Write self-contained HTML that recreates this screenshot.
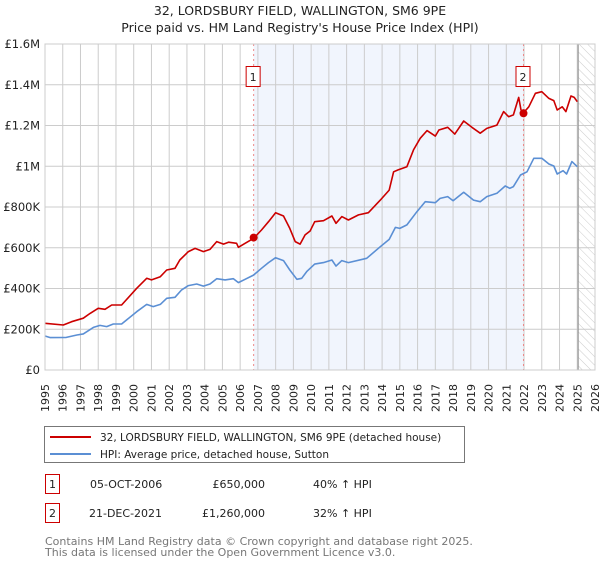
<!DOCTYPE html>
<html><head><meta charset="utf-8"><style>
body{margin:0;background:#fff;width:600px;height:560px;overflow:hidden;font-family:"DejaVu Sans","Liberation Sans",sans-serif;}
svg text{font-family:"DejaVu Sans","Liberation Sans",sans-serif;}
</style></head><body>
<svg id="chart" width="600" height="560" xmlns="http://www.w3.org/2000/svg">
<defs><pattern id="hatch" width="6" height="6" patternUnits="userSpaceOnUse" patternTransform="rotate(-45)"><line x1="0" y1="0" x2="0" y2="6" stroke="#ccc" stroke-width="1"/></pattern></defs>
<text x="300" y="15" text-anchor="middle" font-size="12.5" fill="#222">32, LORDSBURY FIELD, WALLINGTON, SM6 9PE</text>
<text x="300" y="32" text-anchor="middle" font-size="12.5" fill="#222">Price paid vs. HM Land Registry's House Price Index (HPI)</text>
<g id="plot"></g>
<g>
<rect x="44.5" y="426.5" width="420" height="36" fill="#fff" stroke="#777"/>
<line x1="50" y1="437" x2="91" y2="437" stroke="#cc0000" stroke-width="2"/>
<text x="100" y="441" font-size="10.5" fill="#222">32, LORDSBURY FIELD, WALLINGTON, SM6 9PE (detached house)</text>
<line x1="50" y1="454" x2="91" y2="454" stroke="#5b8fd4" stroke-width="2"/>
<text x="100" y="458" font-size="10.5" fill="#222">HPI: Average price, detached house, Sutton</text>
</g>
<g>
<rect x="45.5" y="474.5" width="14" height="19" fill="#fff" stroke="#cc0000"/>
<text x="52.5" y="488" text-anchor="middle" font-size="11" fill="#222">1</text>
<text x="90" y="488" font-size="11" fill="#222">05-OCT-2006</text>
<text x="265" y="488" text-anchor="end" font-size="11" fill="#222">£650,000</text>
<text x="313" y="488" font-size="11" fill="#222">40% ↑ HPI</text>
</g>
<g>
<rect x="45.5" y="503.5" width="14" height="19" fill="#fff" stroke="#cc0000"/>
<text x="52.5" y="517" text-anchor="middle" font-size="11" fill="#222">2</text>
<text x="89" y="517" font-size="11" fill="#222">21-DEC-2021</text>
<text x="265" y="517" text-anchor="end" font-size="11" fill="#222">£1,260,000</text>
<text x="313" y="517" font-size="11" fill="#222">32% ↑ HPI</text>
</g>
<text x="45" y="545" font-size="11" fill="#777">Contains HM Land Registry data © Crown copyright and database right 2025.</text>
<text x="45" y="556" font-size="11" fill="#777">This data is licensed under the Open Government Licence v3.0.</text>
</svg>
<script>
const redYears=[1995.0,1996.03,1996.5,1997.16,1997.54,1998.0,1998.38,1998.76,1999.32,2000.17,2000.73,2001.0,2001.5,2001.86,2002.33,2002.6,2003.08,2003.46,2003.93,2004.3,2004.68,2005.06,2005.34,2005.8,2005.9,2006.28,2006.75,2007.2,2007.6,2008.0,2008.44,2008.8,2009.1,2009.38,2009.66,2009.94,2010.2,2010.7,2011.17,2011.4,2011.73,2012.1,2012.67,2013.23,2013.9,2014.4,2014.65,2014.9,2015.4,2015.77,2016.15,2016.53,2017.0,2017.2,2017.7,2018.1,2018.6,2019.06,2019.53,2019.9,2020.47,2020.85,2021.13,2021.4,2021.7,2021.83,2021.95,2022.27,2022.64,2023.0,2023.4,2023.68,2023.87,2024.15,2024.36,2024.65,2024.83,2025.0];
const redValues=[229,221,237,254,278,303,298,319,319,401,450,442,458,491,499,540,581,597,581,592,630,618,627,622,602,622,646,687,728,772,756,695,630,618,663,682,728,733,756,720,753,736,761,772,834,883,973,982,998,1080,1137,1175,1148,1178,1191,1158,1222,1191,1162,1186,1202,1268,1243,1252,1338,1276,1260,1292,1358,1366,1333,1322,1276,1292,1268,1345,1338,1317];
const hpiYears=[1995.0,1995.3,1996.2,1996.8,1997.16,1997.73,1998.1,1998.48,1998.85,1999.32,2000.17,2000.73,2001.1,2001.5,2001.86,2002.33,2002.7,2003.08,2003.55,2003.93,2004.3,2004.68,2005.15,2005.62,2005.9,2006.28,2006.75,2007.2,2007.6,2008.0,2008.44,2008.8,2009.2,2009.47,2009.75,2010.2,2010.7,2011.17,2011.4,2011.73,2012.1,2013.13,2013.9,2014.4,2014.75,2015.0,2015.4,2015.96,2016.43,2017.0,2017.27,2017.7,2018.0,2018.6,2019.15,2019.53,2019.9,2020.47,2020.94,2021.2,2021.4,2021.8,2022.17,2022.55,2023.0,2023.4,2023.68,2023.87,2024.2,2024.4,2024.7,2025.0];
const hpiValues=[167,159,160,172,177,209,219,213,226,226,286,322,311,322,352,357,393,414,422,412,422,448,442,448,429,445,466,499,527,551,537,491,445,450,483,520,527,540,510,537,527,548,605,641,700,695,712,777,826,821,842,851,831,872,834,826,851,867,903,892,900,957,973,1039,1039,1011,1001,962,978,962,1023,998];
const saleYears=[2006.76,2021.97];
const saleValues=[650,1260];
const saleLabels=["1","2"];
const yTicks=[0,200,400,600,800,1000,1200,1400,1600];
const yTickLabels=["£0","£200K","£400K","£600K","£800K","£1M","£1.2M","£1.4M","£1.6M"];
const xStart=1995,xEnd=2026,dataEnd=2025.05;

const L=45,R=595,T=44,B=370,NS="http://www.w3.org/2000/svg";
const xs=y=>L+(y-xStart)/(xEnd-xStart)*(R-L);
const ys=v=>B-v/1600*(B-T);
const g=document.getElementById('plot');
function mk(t,a,p){const e=document.createElementNS(NS,t);for(const k in a)e.setAttribute(k,a[k]);(p||g).appendChild(e);return e;}

let sh=mk('rect',{x:xs(saleYears[0]),y:T,width:xs(saleYears[1])-xs(saleYears[0]),height:B-T,fill:'#f1f5fd'});


let ht=mk('rect',{x:xs(dataEnd),y:T,width:R-xs(dataEnd),height:B-T,fill:'url(#hatch)'});


for(let yr=xStart;yr<=xEnd;yr++){
  const l=mk('line',{x1:xs(yr),x2:xs(yr),y1:T,y2:B,stroke:'#cccccc','stroke-width':1});
  
  
  const t=mk('text',{x:0,y:0,'font-size':11,fill:'#222','text-anchor':'end',transform:`translate(${xs(yr)+4},384) rotate(-90)`});
  t.textContent=yr;
  
  
}
yTicks.forEach((v,i)=>{
  const l=mk('line',{x1:L,x2:R,y1:ys(v),y2:ys(v),stroke:'#cccccc','stroke-width':1});
  
  
  const t=mk('text',{x:40,y:ys(v)+4,'font-size':11.5,fill:'#222','text-anchor':'end'});
  t.textContent=yTickLabels[i];
  
  
});
const el=mk('line',{x1:xs(dataEnd),x2:xs(dataEnd),y1:T,y2:B,stroke:'#999','stroke-width':1.2});


saleYears.forEach((yr,i)=>{
  const l=mk('line',{x1:xs(yr),x2:xs(yr),y1:T,y2:B,stroke:'#e88','stroke-width':1,'stroke-dasharray':'2,3'});
  
  
});
function path(xa,va,c,n){
  const d=xa.map((x,i)=>(i?'L':'M')+xs(x).toFixed(1)+','+ys(va[i]).toFixed(1)).join('');
  const p=mk('path',{d:d,fill:'none',stroke:c,'stroke-width':1.6,'stroke-linejoin':'round'});
  
  
}
path(hpiYears,hpiValues,'#5b8fd4','hpi-line');
path(redYears,redValues,'#cc0000','price-line');
saleYears.forEach((yr,i)=>{
  const c=mk('circle',{cx:xs(yr),cy:ys(saleValues[i]),r:4,fill:'#cc0000'});
  
  
  const bx=xs(yr)-8;
  const r=mk('rect',{x:bx+0.5,y:66.5,width:14,height:20,fill:'#fff',stroke:'#cc0000'});
  
  
  const t=mk('text',{x:bx+7.5,y:81,'font-size':11,fill:'#222','text-anchor':'middle'});
  t.textContent=saleLabels[i];
  
  
});
const fr=mk('rect',{x:L,y:T,width:R-L,height:B-T,fill:'none',stroke:'#cccccc'});


</script>
</body></html>
